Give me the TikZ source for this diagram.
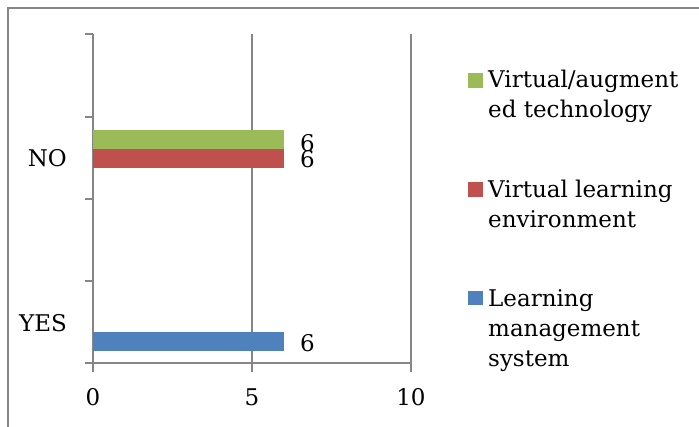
\documentclass[tikz,border=0pt]{standalone}
\usepackage{fontspec}
\setmainfont{DejaVu Serif}
\definecolor{axisgray}{HTML}{868686}
\definecolor{bargreen}{HTML}{9BBB59}
\definecolor{barred}{HTML}{C0504D}
\definecolor{barblue}{HTML}{4F81BD}
\begin{document}
\begin{tikzpicture}[x=1pt,y=-1pt,
  axisline/.style={draw=axisgray,line width=1.4pt},
  lbl/.style={inner sep=0pt,font=\fontsize{23}{28}\selectfont}]
\useasboundingbox (0,0) rectangle (699,427);
% frame
\draw[axisline] (8,427) -- (8,8) -- (699,8);
% gridlines
\draw[axisline] (252,34) -- (252,372);
\draw[axisline] (411,34) -- (411,372);
% axes
\draw[axisline] (93,34) -- (93,372);
\draw[axisline] (85,363) -- (411,363);
\foreach \yy in {34,117,199,281}{\draw[axisline] (85,\yy) -- (93,\yy);}
% bars
\fill[bargreen] (93,130) rectangle (284,149);
\fill[barred] (93,149) rectangle (284,168);
\fill[barblue] (93,332) rectangle (284,351);
% value labels
\node[lbl,anchor=base west] (vg) at (300,152) {6};
\node[lbl,anchor=base west] (vr) at (300,168) {6};
\node[lbl,anchor=base west] (vb) at (300,352) {6};
% category labels
\node[lbl,anchor=base east] (no) at (67,167) {NO};
\node[lbl,anchor=base east] (yes) at (67,332) {YES};
% x labels
\node[lbl,anchor=base] (x0) at (93,406) {0};
\node[lbl,anchor=base] (x5) at (252,406) {5};
\node[lbl,anchor=base] (x10) at (411,406) {10};
% legend
\fill[bargreen] (468,73) rectangle (483,88);
\fill[barred] (468,182) rectangle (483,197);
\fill[barblue] (468,291) rectangle (483,305);
\node[lbl,anchor=base west] (g1) at (488,88) {Virtual/augment};
\node[lbl,anchor=base west] (g2) at (488,118) {ed technology};
\node[lbl,anchor=base west] (r1) at (488,198) {Virtual learning};
\node[lbl,anchor=base west] (r2) at (488,228) {environment};
\node[lbl,anchor=base west] (b1) at (488,307) {Learning};
\node[lbl,anchor=base west] (b2) at (488,337) {management};
\node[lbl,anchor=base west] (b3) at (488,367) {system};
\end{tikzpicture}
\end{document}
